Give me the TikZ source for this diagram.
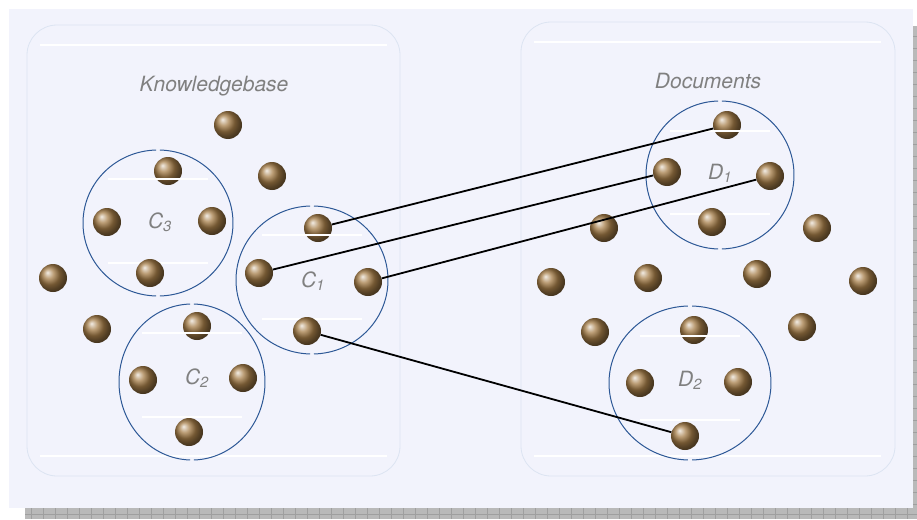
\documentclass[tikz,border=0pt]{standalone}
\usepackage{fontspec}
\setmainfont{TeX Gyre Heros}
\definecolor{sheet}{RGB}{242,243,252}
\definecolor{panelline}{RGB}{220,228,242}
\definecolor{ringblue}{RGB}{45,88,150}
\definecolor{bronze}{RGB}{165,125,72}
\definecolor{labelgray}{RGB}{128,128,128}

\begin{document}
\begin{tikzpicture}[x=1pt, y=-1pt,
    ball/.style={circle, inner sep=0pt, minimum size=28pt, shading=ball, ball color=bronze},
    ring/.style={draw=ringblue, line width=1pt},
    chord/.style={draw=white, line width=2pt},
    panel/.style={draw=panelline, line width=0.8pt, rounded corners=30pt},
    tag/.style={text=labelgray, font=\fontsize{21}{24}\selectfont\itshape},
    link/.style={draw=black, line width=1.8pt}]
    \useasboundingbox (0,0) rectangle (917,519);

    % drop shadow and sheet
    \fill[gray!55] (25,26) rectangle (917,519);
    \foreach \x in {31,43,...,917}
        \draw[gray!75, line width=0.5pt] (\x,508) -- (\x,519);
    \foreach \y in {36,48,...,508}
        \draw[gray!75, line width=0.5pt] (913,\y) -- (917,\y);
    \draw[gray!75, line width=0.5pt] (25,514) -- (917,514);
    \fill[sheet] (9,9) rectangle (913,508);

    % the two panels
    \draw[panel] (27,25) rectangle (400,476);
    \draw[panel] (521,22) rectangle (895,476);
    \draw[chord] (40,45) -- (387,45);
    \draw[chord] (40,456) -- (387,456);
    \draw[chord] (534,42) -- (881,42);
    \draw[chord] (534,456) -- (881,456);
    \node[tag] (kbtitle) at (214,86) {Knowledgebase};
    \node[tag] (doctitle) at (708,81) {Documents};

    % cluster rings (split at top and bottom) and lower chords
    \foreach \cx/\cy/\rx/\ry/\tb in {158/223/75/73/263, 312/280/76/74/319, 192/382/73/78/417,
                                     720/175/74/74/214, 690/383/81/77/420} {
        \draw[ring] (\cx,\cy) ++(xyz polar cs:angle=91.5, x radius=\rx, y radius=\ry)
            arc[start angle=91.5, end angle=268.5, x radius=\rx, y radius=\ry];
        \draw[ring] (\cx,\cy) ++(xyz polar cs:angle=-88.5, x radius=\rx, y radius=\ry)
            arc[start angle=-88.5, end angle=88.5, x radius=\rx, y radius=\ry];
        \draw[chord] (\cx-50,\tb) -- (\cx+50,\tb);
    }

    \node[tag] (c3tag) at (160,222) {C\textsubscript{3}};
    \node[tag] (c1tag) at (313,281) {C\textsubscript{1}};
    \node[tag] (c2tag) at (197,378) {C\textsubscript{2}};
    \node[tag] (d1tag) at (720,173) {D\textsubscript{1}};
    \node[tag] (d2tag) at (690,380) {D\textsubscript{2}};

    % knowledgebase items
    \foreach \x/\y [count=\i] in {228/125, 272/176, 53/278, 97/329}
        \node[ball] (kb\i) at (\x,\y) {};
    \node[ball] (c3t) at (168,171) {};
    \node[ball] (c3l) at (107,222) {};
    \node[ball] (c3r) at (212,221) {};
    \node[ball] (c3b) at (150,273) {};
    \node[ball] (c1t) at (318,228) {};
    \node[ball] (c1l) at (259,273) {};
    \node[ball] (c1r) at (368,282) {};
    \node[ball] (c1b) at (307,331) {};
    \node[ball] (c2t) at (197,326) {};
    \node[ball] (c2l) at (143,380) {};
    \node[ball] (c2r) at (243,378) {};
    \node[ball] (c2b) at (189,432) {};

    % document items
    \foreach \x/\y [count=\i] in {604/228, 817/228, 551/282, 648/278,
                                  757/274, 863/281, 595/332, 802/327}
        \node[ball] (doc\i) at (\x,\y) {};
    \node[ball] (d1t) at (727,125) {};
    \node[ball] (d1l) at (667,172) {};
    \node[ball] (d1r) at (770,176) {};
    \node[ball] (d1b) at (712,222) {};
    \node[ball] (d2t) at (694,330) {};
    \node[ball] (d2l) at (640,383) {};
    \node[ball] (d2r) at (738,382) {};
    \node[ball] (d2b) at (685,436) {};

    % upper chords run across the top items
    \foreach \cx/\ta in {158/179, 312/235, 192/333, 720/131, 690/336}
        \draw[chord] (\cx-50,\ta) -- (\cx+50,\ta);

    % mapping C1 -> documents
    \draw[link] (c1t) -- (d1t);
    \draw[link] (c1l) -- (d1l);
    \draw[link] (c1r) -- (d1r);
    \draw[link] (c1b) -- (d2b);
\end{tikzpicture}
\end{document}
